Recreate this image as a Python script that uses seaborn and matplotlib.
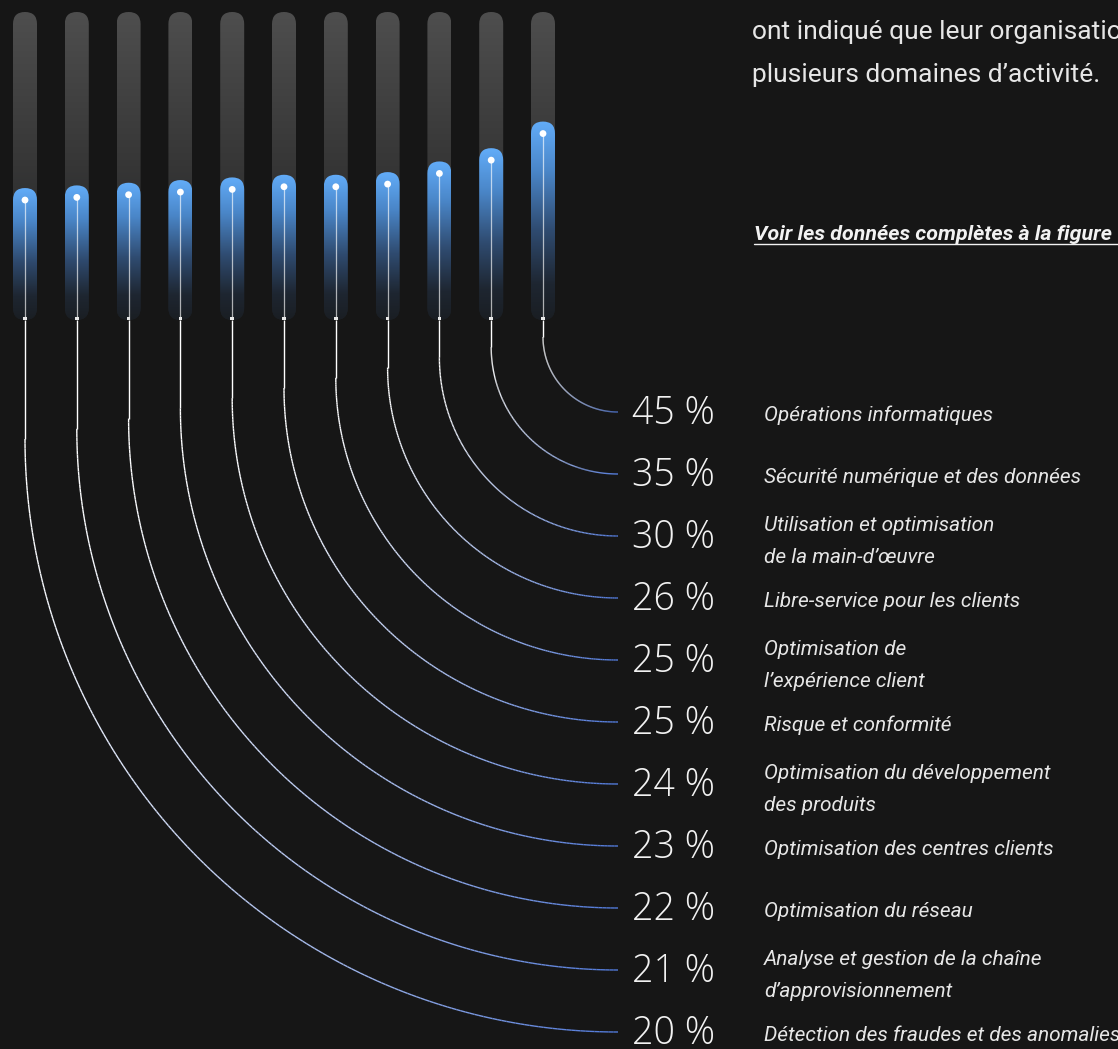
import numpy as np
import pandas as pd
import matplotlib
matplotlib.use("Agg")
import matplotlib.pyplot as plt
import seaborn as sns
from matplotlib.patches import FancyBboxPatch
from matplotlib.transforms import IdentityTransform
from matplotlib.collections import LineCollection
from matplotlib.colors import LinearSegmentedColormap, to_rgb

# ---- data (ordered from the top row of labels downwards) ----
categories = [
    "Opérations informatiques",
    "Sécurité numérique et des données",
    "Utilisation et optimisation\nde la main-d’œuvre",
    "Libre-service pour les clients",
    "Optimisation de\nl’expérience client",
    "Risque et conformité",
    "Optimisation du développement\ndes produits",
    "Optimisation des centres clients",
    "Optimisation du réseau",
    "Analyse et gestion de la chaîne\nd’approvisionnement",
    "Détection des fraudes et des anomalies",
]
shares = [45, 35, 30, 26, 25, 25, 24, 23, 22, 21, 20]
share_labels = [f"{v} %" for v in shares]
intro_lines = ["ont indiqué que leur organisation", "plusieurs domaines d’activité."]
link_text = "Voir les données complètes à la figure"

# ---- styling / layout ----
W, H, DPI = 1118, 1049, 100
BG = "#161616"
TEXT = "#f2f2f2"
SOFT_TEXT = "#e6e6e6"
CURVE_END = "#5078d8"

sns.set_theme(style="dark", rc={
    "figure.facecolor": BG, "axes.facecolor": BG, "savefig.facecolor": BG,
    "axes.edgecolor": BG, "text.color": TEXT,
})
plt.rcParams["font.family"] = ["Roboto", "DejaVu Sans"]

fig = plt.figure(figsize=(W / DPI, H / DPI), dpi=DPI)

# bars axes: x = position of the bar (ascending order), y = share in %
FLOOR, CEIL = -25.1, 90.7
bar_px_top, bar_px_bottom = 12, 320
step_px, first_px, bars_right_px = 51.8, 25, 570
ax_bars = fig.add_axes([0, 1 - bar_px_bottom / H, bars_right_px / W,
                        (bar_px_bottom - bar_px_top) / H])
xlim = (-first_px / step_px, (bars_right_px - first_px) / step_px)
ax_bars.set_xlim(*xlim)
ax_bars.set_ylim(FLOOR, CEIL)
ax_bars.set_autoscale_on(False)
ax_bars.axis("off")

# overlay axes in pixel units for connectors and labels
ax_ov = fig.add_axes([0, 0, 1, 1], zorder=-1)
ax_ov.set_xlim(0, W)
ax_ov.set_ylim(H, 0)
ax_ov.set_autoscale_on(False)
ax_ov.axis("off")
ax_ov.patch.set_alpha(0)

n = len(shares)
df = pd.DataFrame({
    "category": categories,
    "share": shares,
    "pos": [n - 1 - k for k in range(n)],
    "row": list(range(n)),
})

pill_half = 12  # px
grad = np.linspace(0, 1, 256).reshape(-1, 1)
blue_cmap = LinearSegmentedColormap.from_list("bar_blue", [
    (0.0, "#1a1e23"), (0.18, "#1e2631"), (0.45, "#2f4b70"),
    (0.75, "#4a86c8"), (1.0, "#62acf8")])
grey_cmap = LinearSegmentedColormap.from_list("bar_grey", [
    (0.0, "#1b1f24"), (0.5, "#363636"), (1.0, "#4e4e4e")])

to_disp = ax_bars.transData.transform
px_per_unit = (bar_px_bottom - bar_px_top) / (CEIL - FLOOR)
half_w_units = pill_half / step_px


def pill(pos, top_val, top_pad_px):
    xc, y0 = to_disp((pos, FLOOR))
    _, y1 = to_disp((pos, top_val))
    y1 += top_pad_px
    return FancyBboxPatch((xc - pill_half, y0), 2 * pill_half, y1 - y0,
                          boxstyle=f"round,pad=0,rounding_size={pill_half}",
                          transform=IdentityTransform())


for _, r in df.iterrows():
    p, v = r["pos"], r["share"]
    # grey track
    track = pill(p, CEIL, 0)
    im = ax_bars.imshow(grad, cmap=grey_cmap, origin="lower", aspect="auto",
                        extent=(p - half_w_units, p + half_w_units, FLOOR, CEIL),
                        zorder=1, interpolation="bilinear")
    im.set_clip_path(track)
    # blue value bar
    top_units = v + pill_half / px_per_unit
    bar = pill(p, v, pill_half)
    im = ax_bars.imshow(grad, cmap=blue_cmap, origin="lower", aspect="auto",
                        extent=(p - half_w_units, p + half_w_units, FLOOR, top_units),
                        zorder=2, interpolation="bilinear")
    im.set_clip_path(bar)
    # thin stem inside the bar
    ax_bars.plot([p, p], [v, FLOOR], color="white", alpha=0.65, lw=0.9, zorder=3,
                 solid_capstyle="butt")

sns.scatterplot(data=df, x="pos", y="share", ax=ax_bars, color="white", s=24,
                edgecolor="none", zorder=5, legend=False)
sns.scatterplot(x=df["pos"], y=[FLOOR + 0.4] * n, ax=ax_bars, color="#e8e8e8",
                s=6, marker="s", edgecolor="none", zorder=5, legend=False)
ax_bars.set_xlim(*xlim)
ax_bars.set_ylim(FLOOR, CEIL)
ax_bars.set_xlabel("")
ax_bars.set_ylabel("")

# connectors: bar foot -> vertical drop -> quarter circle -> label row
row_top, row_step = 412, 62
curve_end_x = 618
to_ov = ax_ov.transData.inverted().transform
white = np.array(to_rgb("#ffffff"))
blue = np.array(to_rgb(CURVE_END))

for _, r in df.iterrows():
    x0, y0 = to_ov(to_disp((r["pos"], FLOOR)))
    y_end = row_top + row_step * r["row"]
    R = curve_end_x - x0
    y_arc = y_end - R
    theta = np.linspace(0, np.pi / 2, 200)
    xs = np.concatenate([[x0], curve_end_x - R * np.cos(theta)])
    ys = np.concatenate([[y0], y_arc + R * np.sin(theta)])
    t = np.concatenate([[0], (theta / (np.pi / 2)) ** 1.6])
    pts = np.column_stack([xs, ys]).reshape(-1, 1, 2)
    segs = np.concatenate([pts[:-1], pts[1:]], axis=1)
    tm = (t[:-1] + t[1:]) / 2
    cols = white[None, :] * (1 - tm[:, None]) + blue[None, :] * tm[:, None]
    lc = LineCollection(segs, colors=cols, linewidths=1.0, capstyle="butt")
    ax_ov.add_collection(lc)

    # value and category labels
    ax_ov.text(632, y_end + 12.5, share_labels[r["row"]], fontsize=27,
               family=["Open Sans", "DejaVu Sans"], fontweight="light",
               color=TEXT, ha="left", va="baseline")
    lines = r["category"].split("\n")
    base = y_end + 9 - (len(lines) - 1) * 14
    for j, line in enumerate(lines):
        ax_ov.text(764, base + 32 * j, line, fontsize=15, fontstyle="italic",
                   color=SOFT_TEXT, ha="left", va="baseline")

# intro text and link
for j, line in enumerate(intro_lines):
    ax_ov.text(752, 39 + 43 * j, line, fontsize=19, color=SOFT_TEXT,
               ha="left", va="baseline")
ax_ov.text(754, 240, link_text, fontsize=15.4, fontstyle="italic",
           fontweight="semibold", color=TEXT, ha="left", va="baseline")
ax_ov.plot([754, W], [244, 244], color=TEXT, lw=1.0)

fig.savefig("out.png", dpi=DPI, facecolor=BG)
